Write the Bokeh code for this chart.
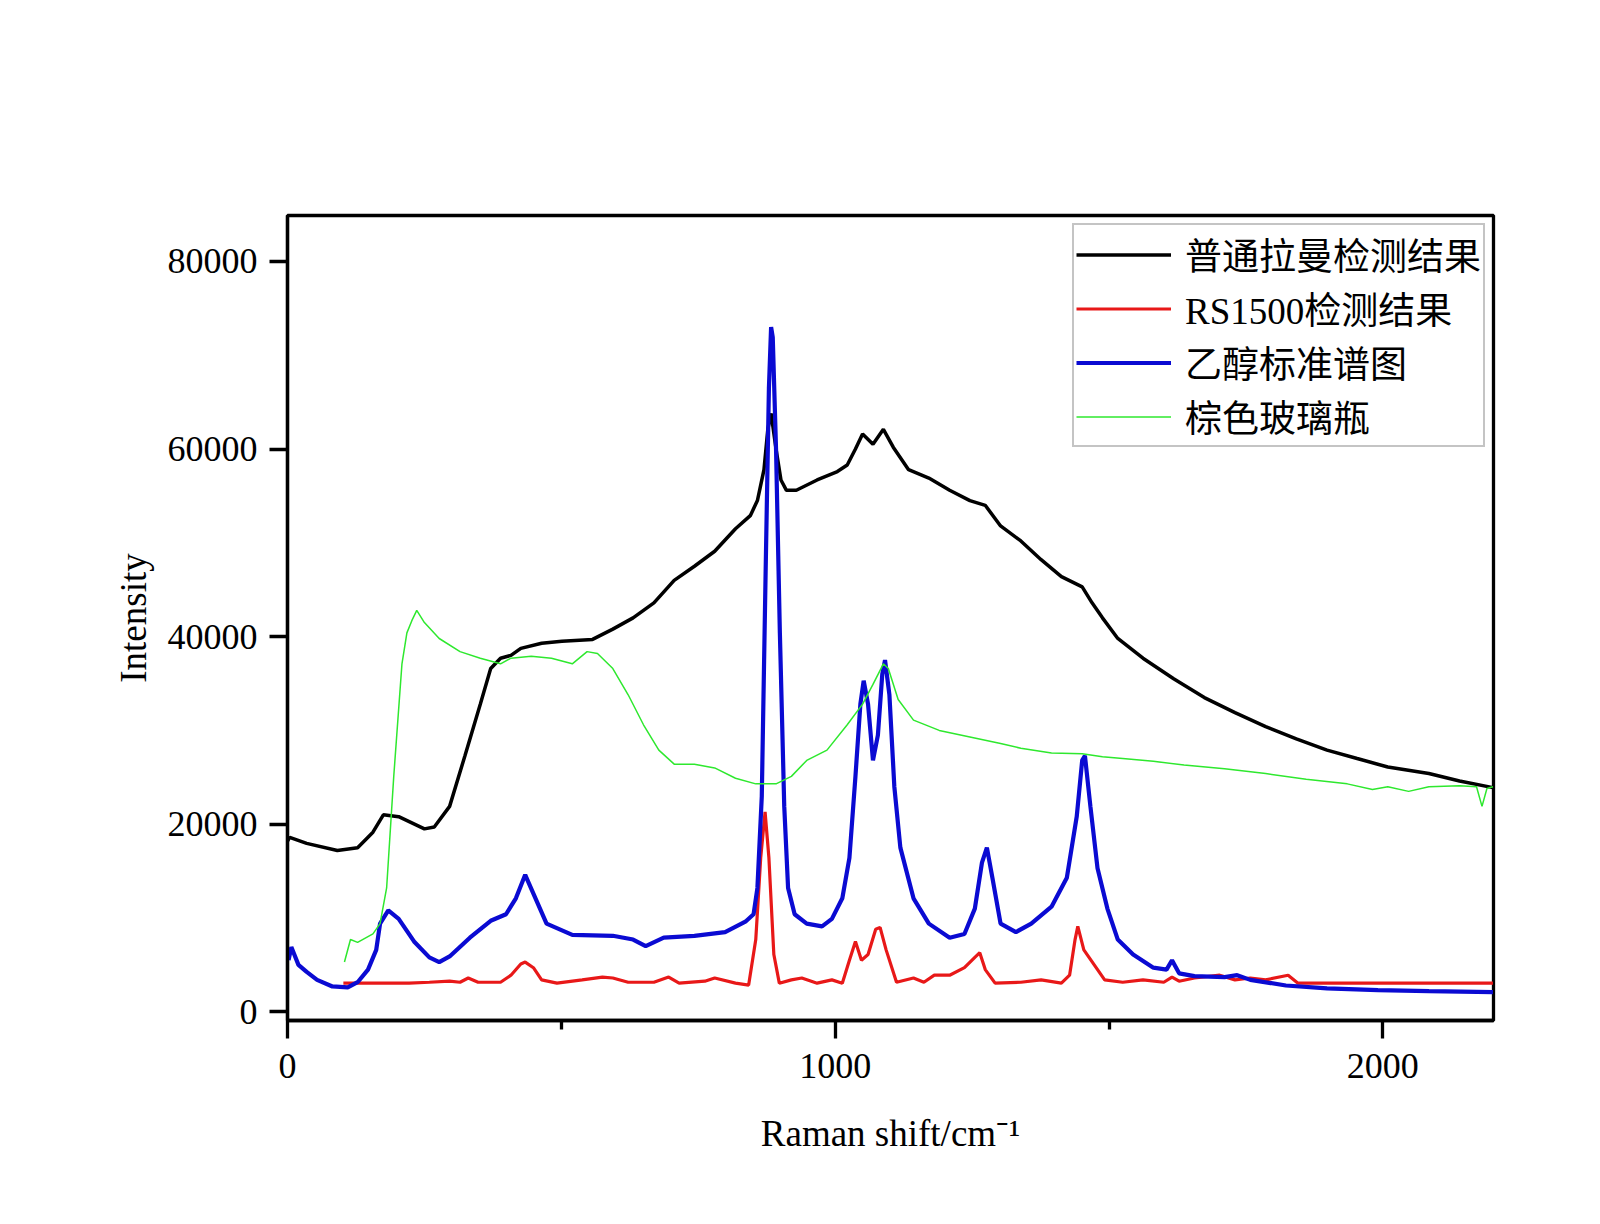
from bokeh.plotting import figure
from bokeh.models import Range1d, FixedTicker, BasicTickFormatter, Legend, LegendItem
from bokeh.embed import file_html
from bokeh.resources import INLINE

# ---- data (Raman shift in cm-1, intensity) ----
black_x = [0, 4, 35, 91, 128, 156, 175, 203, 250, 268, 296, 324, 352, 371, 389, 408, 426, 464, 501, 557,
           594, 631, 669, 706, 743, 780, 818, 845, 858, 870, 877, 883, 892, 901, 911, 929, 967, 1004, 1022, 1037,
           1050, 1069, 1088, 1106, 1134, 1171, 1209, 1246, 1274, 1302, 1339, 1376, 1413, 1451, 1469, 1488, 1516,
           1562, 1618, 1674, 1730, 1786, 1842, 1898, 1953, 2009, 2084, 2140, 2201]
black_y = [18200, 18600, 17960, 17200, 17500, 19150, 21000, 20800, 19500, 19700, 21900, 27300, 32800, 36600,
           37700, 38000, 38750, 39300, 39500, 39700, 40800, 42000, 43600, 46000, 47500, 49100, 51500, 52900,
           54500, 57800, 62100, 63800, 60000, 56700, 55600, 55600, 56700, 57600, 58300, 60000, 61600, 60500,
           62100, 60200, 57800, 56900, 55600, 54500, 54000, 51800, 50200, 48200, 46400, 45300, 43600, 42000,
           39800, 37700, 35500, 33500, 31900, 30400, 29100, 27900, 27000, 26100, 25400, 24600, 23900]

red_x = [102, 222, 259, 296, 315, 330, 348, 389, 408, 426, 434, 449, 464, 492, 538, 575, 594, 622, 669, 696,
         715, 762, 780, 818, 842, 855, 864, 872, 879, 888, 898, 920, 939, 967, 994, 1013, 1026, 1037, 1048, 1060,
         1074, 1082, 1093, 1112, 1143, 1162, 1181, 1209, 1236, 1255, 1264, 1274, 1292, 1339, 1376, 1413, 1428,
         1438, 1443, 1454, 1473, 1492, 1525, 1562, 1600, 1615, 1628, 1656, 1702, 1730, 1758, 1786, 1827, 1845,
         1898, 2201]
red_y = [3050, 3050, 3150, 3260, 3150, 3600, 3150, 3150, 3900, 5100, 5300, 4700, 3400, 3050, 3400, 3700, 3600,
         3150, 3150, 3700, 3050, 3260, 3600, 3050, 2850, 7700, 16400, 21300, 16400, 6100, 3050, 3400, 3600, 3050,
         3400, 3050, 5500, 7500, 5500, 6100, 8800, 9000, 6600, 3150, 3600, 3150, 3900, 3900, 4700, 5800, 6300,
         4500, 3050, 3150, 3400, 3050, 3900, 7700, 9100, 6600, 5000, 3400, 3150, 3400, 3150, 3700, 3260, 3600,
         3900, 3400, 3600, 3400, 3900, 3050, 3050, 3050]

blue_x = [2, 7, 20, 35, 54, 82, 110, 128, 147, 162, 169, 184, 203, 231, 259, 277, 296, 333, 371, 399,
          417, 434, 449, 473, 520, 594, 631, 654, 687, 743, 799, 836, 851, 858, 866, 873, 879, 883, 886, 892,
          899, 907, 914, 926, 948, 976, 994, 1013, 1026, 1037, 1046, 1052, 1060, 1069, 1078, 1086, 1091, 1099,
          1108, 1119, 1143, 1171, 1209, 1236, 1255, 1268, 1277, 1287, 1302, 1330, 1358, 1395, 1423, 1441, 1451,
          1456, 1466, 1479, 1497, 1516, 1544, 1581, 1605, 1615, 1628, 1656, 1711, 1734, 1758, 1823, 1898, 1991,
          2084, 2201]
blue_y = [5500, 6900, 5000, 4250, 3400, 2700, 2600, 3150, 4500, 6600, 9400, 10800, 9900, 7500, 5800, 5300, 5900,
          7900, 9700, 10400, 12100, 14600, 12600, 9400, 8200, 8100, 7700, 7000, 7900, 8100, 8500, 9600, 10400,
          13200, 23000, 46900, 66500, 73000, 71900, 60000, 40400, 21900, 13200, 10400, 9400, 9100, 9900, 12100,
          16400, 25100, 32800, 35300, 32800, 26800, 29500, 36000, 37500, 33800, 24000, 17500, 12100, 9400, 7900,
          8300, 11000, 15900, 17500, 14300, 9400, 8500, 9400, 11200, 14300, 20800, 26800, 27300, 21900, 15300,
          11000, 7700, 6100, 4700, 4500, 5500, 4100, 3800, 3700, 3900, 3400, 2800, 2500, 2300, 2200, 2100]

green_x = [104, 115, 128, 156, 169, 181, 194, 209, 218, 227, 236, 250, 277, 315, 352, 389, 408, 445, 482, 520,
           547, 566, 594, 622, 650, 678, 706, 743, 780, 818, 855, 892, 920, 948, 985, 1022, 1050, 1069, 1088,
           1097, 1115, 1143, 1190, 1246, 1302, 1339, 1395, 1451, 1488, 1525, 1581, 1637, 1711, 1786, 1860, 1935,
           1981, 2009, 2047, 2084, 2140, 2171, 2181, 2190, 2201]
green_y = [5300, 7700, 7400, 8300, 9400, 13200, 25100, 37100, 40400, 41700, 42800, 41500, 39800, 38400, 37700,
           37100, 37700, 37900, 37700, 37100, 38400, 38200, 36600, 33800, 30600, 27900, 26400, 26400, 26000,
           24900, 24300, 24300, 25100, 26800, 27900, 30600, 32800, 34900, 37100, 36600, 33300, 31100, 30000,
           29300, 28600, 28100, 27600, 27500, 27200, 27000, 26700, 26300, 25900, 25400, 24800, 24300, 23700,
           24000, 23500, 24000, 24100, 24000, 21900, 23800, 24000]

series_names = ["普通拉曼检测结果", "RS1500检测结果", "乙醇标准谱图", "棕色玻璃瓶"]
x_ticks = [0, 1000, 2000]
x_minor_ticks = [500, 1500]
y_ticks = [0, 20000, 40000, 60000, 80000]

SERIF = "Liberation Serif"
MIXED = "Liberation Serif, Noto Sans CJK SC"

p = figure(width=1600, height=1224, output_backend="svg", toolbar_location=None,
           x_range=Range1d(0, 2202), y_range=Range1d(-930, 84900),
           min_border_left=287, min_border_right=107, min_border_top=215, min_border_bottom=204)
p.background_fill_color = "white"
p.border_fill_color = "white"
p.outline_line_color = "black"
p.outline_line_width = 3.3
p.xgrid.visible = False
p.ygrid.visible = False

r_black = p.line(black_x, black_y, line_color="black", line_width=3.5)
r_red = p.line(red_x, red_y, line_color="#e81818", line_width=3.2)
r_blue = p.line(blue_x, blue_y, line_color="#0a0ad2", line_width=4.2)
r_green = p.line(green_x, green_y, line_color="#2ee82e", line_width=1.5)

for ax in (p.xaxis[0], p.yaxis[0]):
    ax.axis_line_color = "black"
    ax.axis_line_width = 3.3
    ax.major_tick_line_color = "black"
    ax.major_tick_line_width = 3.3
    ax.major_tick_in = 0
    ax.major_tick_out = 18
    ax.minor_tick_line_color = "black"
    ax.minor_tick_line_width = 3.3
    ax.minor_tick_in = 0
    ax.minor_tick_out = 9
    ax.major_label_text_font = SERIF
    ax.major_label_text_font_size = "36px"
    ax.major_label_text_color = "black"
    ax.axis_label_text_font = SERIF
    ax.axis_label_text_font_size = "37px"
    ax.axis_label_text_font_style = "normal"
    ax.axis_label_text_color = "black"

p.xaxis[0].ticker = FixedTicker(ticks=x_ticks, minor_ticks=x_minor_ticks)
p.yaxis[0].ticker = FixedTicker(ticks=y_ticks, minor_ticks=[])
p.yaxis[0].formatter = BasicTickFormatter(use_scientific=False)
p.xaxis[0].major_label_standoff = 15
p.yaxis[0].major_label_standoff = 12
p.xaxis[0].axis_label = "Raman shift/cm\u207b\u00b9"
p.yaxis[0].axis_label = "Intensity"
p.xaxis[0].axis_label_standoff = 32
p.yaxis[0].axis_label_standoff = 11

legend = Legend(items=[LegendItem(label=series_names[0], renderers=[r_black]),
                       LegendItem(label=series_names[1], renderers=[r_red]),
                       LegendItem(label=series_names[2], renderers=[r_blue]),
                       LegendItem(label=series_names[3], renderers=[r_green])],
                location="top_right", margin=8, padding=2, spacing=0,
                glyph_width=95, glyph_height=53, label_height=53, label_standoff=14,
                label_text_font=MIXED, label_text_font_size="37px", label_text_color="black",
                border_line_color="#8a8a8a", border_line_width=2,
                background_fill_color="white", background_fill_alpha=1.0)
p.add_layout(legend)

open("out.html", "w").write(file_html(p, INLINE))
